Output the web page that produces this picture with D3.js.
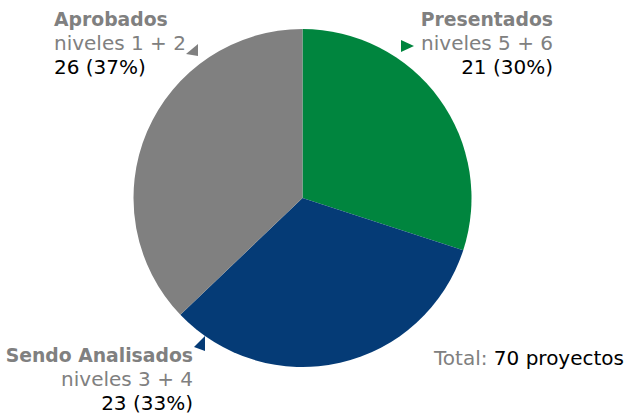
<!DOCTYPE html>
<html>
<head>
<meta charset="utf-8">
<script src="https://cdn.jsdelivr.net/npm/d3@7"></script>
<style>
body{margin:0;background:#fff;}
svg{display:block;font-family:"DejaVu Sans",Verdana,sans-serif;}
</style>
</head>
<body>
<svg id="chart" width="626" height="419"></svg>
<script>
var categories=["Presentados","Sendo Analisados","Aprobados"];
var levels=["niveles 5 + 6","niveles 3 + 4","niveles 1 + 2"];
var values=[21,23,26];
var totalLabel="70 proyectos";

var total=d3.sum(values);
var svg=d3.select("#chart");
var cx=302.5,cy=198,r=169;
var fs="20px";

var color=d3.scaleOrdinal()
    .domain(categories)
    .range(["#00853e","#053b76","#808080"]);

var pie=d3.pie().sort(null).value(function(d){return d;});
var arc=d3.arc().innerRadius(0).outerRadius(r);
var arcs=pie(values);

var g=svg.append("g").attr("transform","translate("+cx+","+cy+")");
g.selectAll("path")
   .data(arcs)
   .enter().append("path")
   .attr("d",arc)
   .style("fill",function(d,i){return color(categories[i]);});

// label placement: x, baseline of first line, anchor, arrow triangle
var lay=[
  {x:553,y:26,anchor:"end",tri:[[401,40],[401,52],[414,46]]},
  {x:193,y:362,anchor:"end",tri:[[205,336],[205,351],[194,347]]},
  {x:54,y:26,anchor:"start",tri:[[198,44],[198,56],[186,54]]}
];

categories.forEach(function(c,i){
  var L=lay[i];
  var t=svg.append("text")
     .attr("x",L.x)
     .attr("y",L.y)
     .attr("text-anchor",L.anchor)
     .style("font-size",fs);
  t.append("tspan")
     .attr("x",L.x)
     .style("font-weight","bold")
     .style("font-size","18.8px")
     .style("fill","#808080")
     .text(c);
  t.append("tspan")
     .attr("x",L.x)
     .attr("dy",24)
     .style("fill","#808080")
     .text(levels[i]);
  t.append("tspan")
     .attr("x",L.x)
     .attr("dy",24)
     .style("fill","#000")
     .text(values[i]+" ("+Math.round(values[i]/total*100)+"%)");
  svg.append("path")
     .attr("d","M"+L.tri.join("L")+"Z")
     .style("fill",color(c));
});

var tt=svg.append("text")
   .attr("x",624)
   .attr("y",365)
   .attr("text-anchor","end")
   .style("font-size",fs);
tt.append("tspan").style("fill","#808080").text("Total: ");
tt.append("tspan").style("fill","#000").text(totalLabel);
</script>
</body>
</html>
